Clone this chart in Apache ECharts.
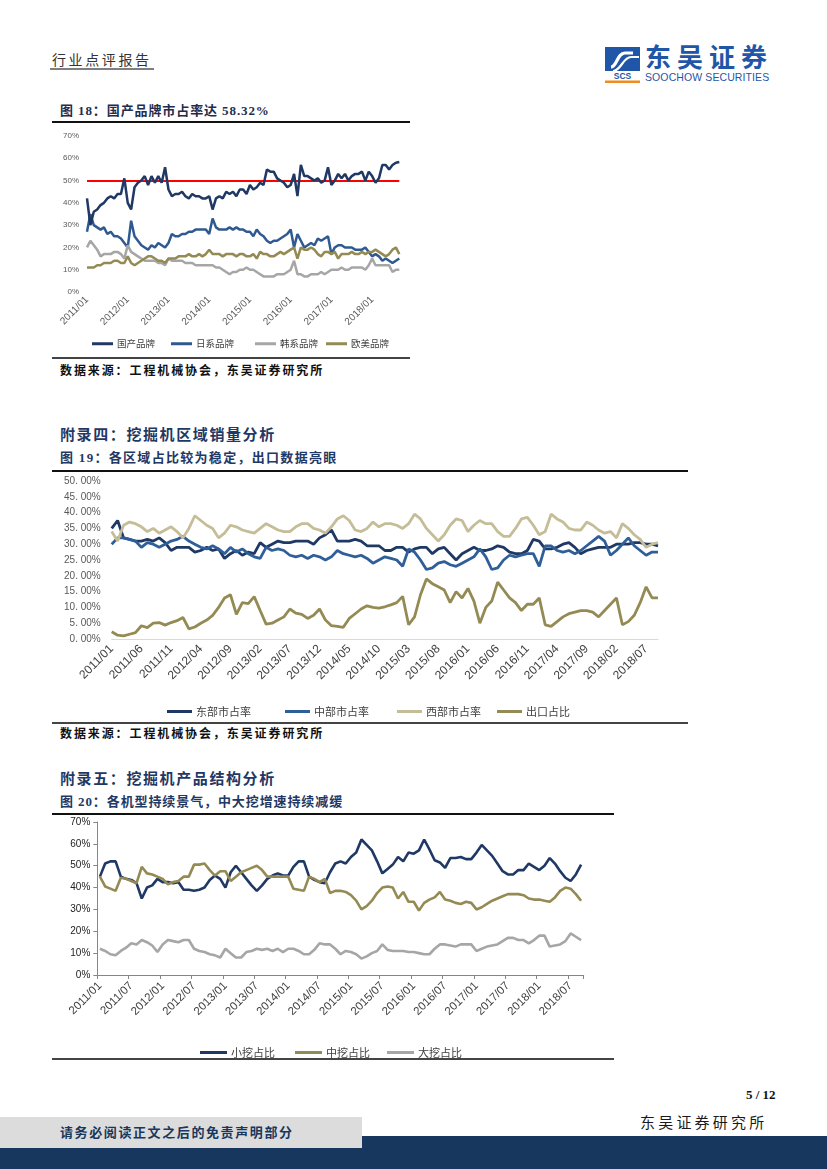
<!DOCTYPE html>
<html><head><meta charset="utf-8">
<script src="https://cdn.jsdelivr.net/npm/echarts@6.0.0/dist/echarts.min.js"></script>
<style>
html,body{margin:0;padding:0;background:#fff;}
#page{position:relative;width:827px;height:1169px;overflow:hidden;background:#fff;font-family:"Liberation Serif","Noto Sans CJK SC",serif;}
.t{position:absolute;white-space:nowrap;line-height:1;}
.r{position:absolute;}
.c{position:absolute;}
</style></head>
<body><div id="page">
<div class="t" style="left:52px;top:52px;font-size:14px;letter-spacing:2.6px;color:#333;font-family:'Noto Sans CJK SC';">行业点评报告</div>
<div class="r" style="left:50px;top:68px;width:104px;height:2px;background:#7f7f7f;"></div>
<svg class="r" style="left:603px;top:45px" width="40" height="40" viewBox="0 0 40 40">
<rect x="2" y="2" width="35" height="24" fill="#1f56a8"/>
<path d="M8 22 C14 22 14 8 22 8 L30 8" stroke="#fff" stroke-width="3.2" fill="none"/>
<path d="M10 26 C18 26 20 12 28 12 L36 12" stroke="#fff" stroke-width="2.2" fill="none"/>
<text x="19.5" y="33.5" text-anchor="middle" font-family="Liberation Sans" font-weight="bold" font-size="8.5" fill="#1f56a8">SCS</text>
<rect x="2" y="35.5" width="35" height="2.5" fill="#f08c1e"/>
</svg>
<div class="t" style="left:645px;top:43px;font-size:26px;font-weight:bold;color:#1f56a8;letter-spacing:6px;font-family:'Noto Sans CJK SC';">东吴证券</div>
<div class="t" style="left:645px;top:72px;font-size:10.5px;color:#1f56a8;font-family:'Liberation Sans';letter-spacing:0.1px;">SOOCHOW SECURITIES</div>

<div class="t" style="left:60px;top:104px;font-size:13px;font-weight:bold;color:#1f2d4d;letter-spacing:0.9px;">图 18：国产品牌市占率达 58.32%</div>
<div class="r" style="left:52px;top:121px;width:358px;height:2px;background:#111;"></div>
<div id="c18" class="c" style="left:40px;top:125px;width:380px;height:230px;"></div>
<div class="r" style="left:52px;top:357px;width:358px;height:1.5px;background:#444;"></div>
<div class="t" style="left:60px;top:365px;font-size:12px;font-weight:bold;color:#111;letter-spacing:1.9px;">数据来源：工程机械协会，东吴证券研究所</div>

<div class="t" style="left:60px;top:428px;font-size:15px;font-weight:bold;color:#1f3864;letter-spacing:1.6px;">附录四：挖掘机区域销量分析</div>
<div class="t" style="left:60px;top:451px;font-size:13px;font-weight:bold;color:#1f3864;letter-spacing:1.3px;">图 19：各区域占比较为稳定，出口数据亮眼</div>
<div class="r" style="left:52px;top:470px;width:636px;height:2px;background:#111;"></div>
<div id="c19" class="c" style="left:40px;top:472px;width:650px;height:250px;"></div>
<div class="r" style="left:52px;top:722px;width:636px;height:1.5px;background:#444;"></div>
<div class="t" style="left:60px;top:728px;font-size:12px;font-weight:bold;color:#111;letter-spacing:1.9px;">数据来源：工程机械协会，东吴证券研究所</div>

<div class="t" style="left:60px;top:772px;font-size:15px;font-weight:bold;color:#1f3864;letter-spacing:1.6px;">附录五：挖掘机产品结构分析</div>
<div class="t" style="left:60px;top:795px;font-size:13px;font-weight:bold;color:#1f3864;letter-spacing:0.9px;">图 20：各机型持续景气，中大挖增速持续减缓</div>
<div class="r" style="left:52px;top:813px;width:562px;height:2px;background:#111;"></div>
<div id="c20" class="c" style="left:40px;top:815px;width:585px;height:255px;"></div>
<div class="r" style="left:52px;top:1058px;width:562px;height:1.5px;background:#444;"></div>

<div class="t" style="left:746px;top:1088px;font-size:13px;font-weight:bold;color:#111;">5 / 12</div>
<div class="t" style="left:640px;top:1114px;font-size:15px;color:#1a1a1a;letter-spacing:3.2px;font-family:'Noto Sans CJK SC';">东吴证券研究所</div>
<div class="r" style="left:0;top:1136px;width:827px;height:33px;background:#17375e;"></div>
<div class="r" style="left:0;top:1117px;width:362px;height:31px;background:#dcdcdc;"></div>
<div class="t" style="left:60px;top:1126px;font-size:13px;font-weight:bold;color:#17375e;letter-spacing:1.6px;">请务必阅读正文之后的免责声明部分</div>
</div>
<script>
// ---------- Chart 18: brand market share (2011/01 - 2018/09) ----------
const brandNames = ['国产品牌','日系品牌','韩系品牌','欧美品牌'];
const domestic = [42,30,36,37,39,40,42,43,42,44,
44,51,40,37,47,49,50,52,48,52,
49,52,49,56,46,43,44,44,45,43,
42,44,43,43,42,42,43,37,42,43,
42,45,44,45,43,46,46,44,48,46,
47,49,48,55,54,54,51,50,49,47,
48,53,43,57,52,52,51,50,51,49,
50,56,48,50,53,51,53,50,52,53,
53,54,50,54,52,49,51,57,57,55,
57,58,58.32];
const japanese = [27,35,30,29,28,29,26,27,25,25,
24,22,20,32,25,23,21,20,19,21,
20,22,21,20,22,26,25,25,26,26,
27,27,28,28,28,28,26,33,29,28,
28,28,29,28,29,28,28,27,27,25,
28,26,25,23,22,23,23,24,25,26,
28,20,26,23,20,21,22,21,24,23,
24,25,17,20,21,21,20,20,20,19,
19,19,20,18,16,17,16,14,15,14,
13,14,15];
const korean = [20,23,21,19,16,17,17,17,18,18,
17,15,21,18,17,16,15,14,14,14,
14,13,13,12,15,14,14,14,14,13,
13,13,12,12,12,12,12,12,11,11,
10,9,8,9,9,10,10,11,10,10,
9,8,7,7,7,7,8,8,8,9,
10,14,8,8,7,7,8,8,8,9,
8,9,10,10,10,11,10,10,11,11,
11,11,10,12,15,12,12,12,12,12,
9,10,10];
const euroUS = [11,11,11,12,12,13,13,13,14,14,
13,13,16,13,12,13,14,15,16,16,
15,14,14,13,15,15,15,16,16,16,
17,16,16,17,16,17,19,17,17,17,
16,17,17,17,16,17,17,16,16,17,
15,18,17,17,16,16,17,18,17,18,
19,20,15,20,19,19,20,19,17,16,
18,18,17,18,15,17,17,17,18,17,
17,18,17,18,18,19,18,17,16,17,
19,20,17];
const threshold18 = 50;

// ---------- Chart 19: regional share (2011/01 - 2018/09) ----------
const regionNames = ['东部市占率','中部市占率','西部市占率','出口占比'];
const east = [35,37.5,32,31.5,31,31,31.5,31,32,30.5,
28,29,29,29,27.5,28,29,28,28.5,25.5,
27,28,26.5,27.5,27,30.5,29,30,31,30.5,
30.5,31,31,31,30,32,33,34.5,31,31,
31,31.5,31,29.5,29.5,29.5,28,28,29,29,
27.5,28.5,29,29,27,28.5,29,27,25,27,
28,29,28,28,28.5,29.5,29,27.5,27,27,
28,31.5,31,28.5,28.5,29,30,30.5,29,27,
28,28.5,29,29,29,30,30,30,30.5,30.5,
30,30,29.5];
const central = [30,32,32,31.5,31,29,30.5,30,29,30,
31,31.5,32.5,31,30,29,28.5,29.5,28.5,27,
29,27.5,28.5,27,26,25.5,29,28,28.5,28,
26.5,26,26.5,25.5,26.5,26,25,26,28,27,
26.5,26,26.5,25.5,24,25,26,25.5,25,23,
28.5,27.5,25,22,22.5,24,24.5,23.5,23,24,
25,26,28.5,26,22,22.5,25,26.5,26,26.5,
27,27,23,29.5,29.5,28,27.5,28,27,28,
29.5,31,32.5,31,26.5,28,30,32,29.5,28,
26.5,27.5,27.5];
const west = [34,31,36,37,36.5,35.5,34,35,33.5,34.5,
35.5,34,32,35,39,37.5,36,35,32,33.5,
36,35.5,34.5,34,33.5,35,36.5,35.5,34.5,34,
34,35.5,36.5,36.5,35,34.5,33.5,35.5,38,39,
37.5,34.5,34,35,37,35.5,36.5,36.5,36,35,
36.5,39.5,38,35,33,31,33,36,38,37.5,
34,36,37.5,36.5,36.5,34,32.5,32.5,35,38,
38.5,36,33,34,39.5,38,37,35,34.5,34.5,
37,36,34.5,33.5,34,32,36.5,35,33,31.5,
29,30,30.5];
const exportShare = [2.3,1.2,1,1.5,2,4.2,3.6,5,5.2,4.4,
5.2,5.8,6.8,3.2,3.8,5,6,7.5,10,13,
14,7.8,11.5,11.2,13.4,9,4.7,5,6,7,
9.5,8.2,7.8,6.5,7.5,9.5,6,4.2,4,3.7,
6.5,8,9.5,10.5,10,9.8,10.2,10.8,11.5,13.5,
4.5,7,14,19,17.5,16.5,15.5,11.5,15,13,
16,12,5,10,12,18,15.5,13,11.5,9,
11,11,13,4.5,4,5.5,7,8,8.5,9,
9,8.5,7,9,11,13,4.5,5.5,7.5,11.5,
16.5,13,13];

// ---------- Chart 20: product mix (2011/01 - 2018/09) ----------
const sizeNames = ['小挖占比','中挖占比','大挖占比'];
const small = [45,51,52,52,45,44,43.5,42,35,40,
41,44,42.5,42.5,42,42.5,39,39,38.5,39,
40,43.5,45.5,44,40,47,50,47,44,41,
38.5,41,44,45.5,46.5,45.5,45.5,49.5,52,52,
45,43.5,42.5,42,47,51,52,51,54,56,
62,59.5,57,52,46.5,48.5,50.5,54,52,56,
55.5,57,62,57.5,52.5,51.5,49,53.5,53.5,54,
53,53,56,59.5,57,54.5,51,47.5,46,46,
48,48,51,49.5,48,50,53.5,51,47.5,44.5,
43,46,50.5];
const medium = [45,40.5,39.5,38.5,44.5,44,43,42,49.5,46.5,
46,45,44,41.5,42.5,43,45,45,50.5,50.5,
51,48,45.5,47.5,47.5,43,45,47,48,49,
50,48,45,45,45,45,45,39.5,39,38.5,
45,44,42.5,44,37.5,38.5,38.5,38,36.5,34,
30,31.5,34,37.5,40,40.5,40,35,38,33.5,
33.5,29.5,33,34.5,35.5,38,34.5,34,33,32.5,
33.5,33,30,31,32.5,34,35,36,37,37,
37,36.5,35,34.5,34.5,34,33.5,35.5,38.5,40,
39.5,37,34];
const large = [12,11,9.5,9,11,12.5,14.5,14,16,15,
13.5,10.5,14,16,15.5,15,16,16,12,11,
10.5,9.5,9,8,12,10,8,8,10.5,11,
12,11.5,12,11,12,10.5,12,12,11,9.5,
9.5,11.5,14.5,14,14,12,9.5,11,10.5,9.5,
7.5,8.5,10,11,14,11.5,11,11,11,10.5,
10.5,10,9.5,9.5,12,14,14,13.5,13,14,
14,14,11,12,13,13.5,14,15.5,17,17,
16,16,14.5,16,18,18,13,13.5,14,15.5,
19,17.5,16];

function monthLabels(startYear, count){
  const out=[];
  for(let k=0;k<count;k++){
    const y=startYear+Math.floor(k/12), m=(k%12)+1;
    out.push(y+'/'+(m<10?'0'+m:m));
  }
  return out;
}
const months = monthLabels(2011, 93);

const FONT_CJK = 'Noto Sans CJK SC';
function legendItem(name, left, top, fs, w){
  return {data:[name], left:left, top:top, icon:'rect', itemWidth:w, itemHeight:3, itemGap:0,
    textStyle:{fontSize:fs, color:'#404040', fontFamily:FONT_CJK, padding:[0,0,0,-1]}};
}
function lineSeries(name, data, color, width){
  return {name:name, type:'line', data:data, symbol:'none', smooth:false,
    lineStyle:{color:color, width:width}, itemStyle:{color:color}};
}

// Chart 18
const c18 = echarts.init(document.getElementById('c18'), null, {renderer:'canvas'});
const s18 = [
  lineSeries(brandNames[0], domestic, '#1f3864', 2.5),
  lineSeries(brandNames[1], japanese, '#2f5a91', 2.5),
  lineSeries(brandNames[2], korean, '#a6a6a6', 2.5),
  lineSeries(brandNames[3], euroUS, '#948a54', 2.5)
];
s18[0].z = 5;
s18[0].markLine = {silent:true, symbol:'none', label:{show:false}, animation:false,
  data:[{yAxis:threshold18}], lineStyle:{color:'#ff0000', width:2, type:'solid'}};
c18.setOption({
  animation:false,
  grid:{left:47, right:20.7, top:11, bottom:63},
  legend:[legendItem(brandNames[0],47,209,9.5,21), legendItem(brandNames[1],126,209,9.5,21),
          legendItem(brandNames[2],210,209,9.5,21), legendItem(brandNames[3],281,209,9.5,21)],
  xAxis:{type:'category', boundaryGap:false, data:months,
    axisLine:{show:false}, axisTick:{show:false},
    axisLabel:{interval:11, rotate:45, fontSize:10, color:'#595959', margin:6, fontFamily:'Liberation Sans'}},
  yAxis:{type:'value', min:0, max:70, interval:10, splitLine:{show:false},
    axisLine:{show:false}, axisTick:{show:false},
    axisLabel:{formatter:'{value}%', fontSize:8, color:'#595959', margin:8, fontFamily:'Liberation Sans'}},
  series:s18
});

// Chart 19
const c19 = echarts.init(document.getElementById('c19'), null, {renderer:'canvas'});
c19.setOption({
  animation:false,
  grid:{left:71.7, right:32, top:9, bottom:83},
  legend:[legendItem(regionNames[0],122,229,11,25), legendItem(regionNames[1],240,229,11,25),
          legendItem(regionNames[2],352,229,11,25), legendItem(regionNames[3],452,229,11,25)],
  xAxis:{type:'category', boundaryGap:false, data:months,
    axisLine:{show:true, lineStyle:{color:'#d9d9d9', width:1}}, axisTick:{show:false},
    axisLabel:{interval:4, rotate:45, fontSize:12, color:'#404040', margin:8, fontFamily:'Liberation Sans'}},
  yAxis:{type:'value', min:0, max:50, interval:5, splitLine:{show:false},
    axisLine:{show:false}, axisTick:{show:false},
    axisLabel:{formatter:function(v){return v.toFixed(2).replace('.', '. ')+'%';}, fontSize:10, color:'#595959', margin:11, fontFamily:'Liberation Sans'}},
  series:[
    lineSeries(regionNames[0], east, '#1f3864', 2.8),
    lineSeries(regionNames[1], central, '#2f5f98', 2.8),
    lineSeries(regionNames[2], west, '#c4bd97', 2.8),
    lineSeries(regionNames[3], exportShare, '#948a54', 2.8)
  ]
});

// Chart 20
const c20 = echarts.init(document.getElementById('c20'), null, {renderer:'canvas'});
c20.setOption({
  animation:false,
  grid:{left:57.3, right:41.3, top:7, bottom:95},
  legend:[legendItem(sizeNames[0],155,227,11,27), legendItem(sizeNames[1],250,227,11,27),
          legendItem(sizeNames[2],342,227,11,27)],
  xAxis:{type:'category', boundaryGap:true, data:months,
    axisLine:{show:true, lineStyle:{color:'#868686', width:1}},
    axisTick:{show:true, interval:5, length:4, lineStyle:{color:'#868686'}},
    axisLabel:{interval:5, rotate:45, fontSize:11.5, color:'#404040', margin:9, fontFamily:'Liberation Sans'}},
  yAxis:{type:'value', min:0, max:70, interval:10, splitLine:{show:false},
    axisLine:{show:true, lineStyle:{color:'#868686', width:1}},
    axisTick:{show:true, length:4, lineStyle:{color:'#868686'}},
    axisLabel:{formatter:'{value}%', fontSize:10, color:'#222', margin:7, fontFamily:'Liberation Sans'}},
  series:[
    lineSeries(sizeNames[0], small, '#1f3864', 2.6),
    lineSeries(sizeNames[1], medium, '#948a54', 2.6),
    lineSeries(sizeNames[2], large, '#a6a6a6', 2.6)
  ]
});
</script>
</body></html>
